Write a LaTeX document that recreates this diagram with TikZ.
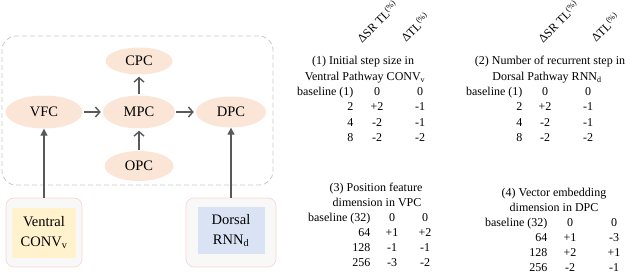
\documentclass[tikz,border=0pt]{standalone}
\usepackage{fontspec}
\setmainfont{Liberation Serif}
\usetikzlibrary{arrows.meta,shapes.geometric}

\definecolor{areafill}{RGB}{251,229,214}
\definecolor{linkgray}{RGB}{89,89,89}
\definecolor{convfill}{RGB}{255,242,204}
\definecolor{rnnfill}{RGB}{218,227,243}
\definecolor{outeredge}{RGB}{248,212,210}
\definecolor{outerfill}{RGB}{248,248,248}
\definecolor{dashgray}{RGB}{200,200,200}

\begin{document}
\begin{tikzpicture}[x=1pt,y=-1pt,font=\fontsize{12}{14}\selectfont,
  area/.style={ellipse,fill=areafill,inner sep=0,font=\fontsize{14.5}{17}\selectfont},
  link/.style={-{Straight Barb[length=4.5pt,width=10pt]},line width=1.4pt,draw=linkgray},
  feed/.style={-{Triangle[length=7pt,width=7pt]},line width=1.4pt,draw=linkgray},
  outer/.style={draw=outeredge,fill=outerfill,rounded corners=8pt,line width=.6pt},
  inner/.style={align=center,inner sep=0,font=\fontsize{14.5}{20}\selectfont},
  key/.style={anchor=mid east},
  val/.style={anchor=mid},
  title/.style={anchor=mid},
  head/.style={rotate=45,anchor=base west,inner sep=0,font=\fontsize{12}{14}\selectfont}]
  \useasboundingbox (0,0) rectangle (640,278);

  % cortex areas
  \node[draw=dashgray,dash pattern=on 5pt off 3pt,rounded corners=14pt,line width=.8pt,
    minimum width=271pt,minimum height=149pt] (cortex) at (137.5,110.5) {};
  \foreach \name/\x/\y/\w/\h/\label in {
    cpc/139/61/67/27/CPC,vfc/44/112/77/33/VFC,mpc/139/112/72/33/MPC,
    dpc/231/112/70/31/DPC,opc/139/166/69/30/OPC}
    \node[area,minimum width=\w pt,minimum height=\h pt] (\name) at (\x,\y) {\label};
  \foreach \a/\b in {vfc/mpc,mpc/dpc,mpc/cpc,opc/mpc}
    \draw[link,shorten <=1pt,shorten >=2pt] (\a) -- (\b);

  % pathways
  \node[outer,minimum width=76pt,minimum height=69pt] (ventralbox) at (44,232.5) {};
  \node[inner,fill=convfill,minimum width=64pt,minimum height=50pt] (ventral)
    at (ventralbox) {Ventral\\CONV\textsubscript{v}};
  \node[outer,minimum width=90pt,minimum height=69pt] (dorsalbox) at (231,232.5) {};
  \node[inner,fill=rnnfill,minimum width=67pt,minimum height=47pt] (dorsal)
    at (231,230.5) {Dorsal\\RNN\textsubscript{d}};
  \draw[feed] (ventralbox.north) -- (vfc.south);
  \draw[feed] (dorsalbox.north) -- (dpc.south);

  % (1) step size
  \node[head] (t1h1) at (362,44) {ΔSR TL\textsuperscript{(\%)}};
  \node[head] (t1h2) at (406,43) {ΔTL\textsuperscript{(\%)}};
  \node[title] (t1a) at (363,62) {(1) Initial step size in};
  \node[title] (t1b) at (365,78) {Ventral Pathway CONV\textsubscript{v}};
  \foreach \r/\y/\k/\u/\v in {0/93/baseline (1)/0/0,1/108/2/+2/-1,2/124/4/-2/-1,3/139/8/-2/-2} {
    \node[key] (t1k\r) at (357,\y) {\k};
    \node[val] (t1u\r) at (377,\y) {\u};
    \node[val] (t1v\r) at (420,\y) {\v};
  }

  % (2) recurrent steps
  \node[head] (t2h1) at (543,44) {ΔSR TL\textsuperscript{(\%)}};
  \node[head] (t2h2) at (596,43) {ΔTL\textsuperscript{(\%)}};
  \node[title] (t2a) at (550,62) {(2) Number of recurrent step in};
  \node[title] (t2b) at (547,78) {Dorsal Pathway RNN\textsubscript{d}};
  \foreach \r/\y/\k/\u/\v in {0/93/baseline (1)/0/0,1/108/2/+2/-1,2/124/4/-2/-1,3/139/8/-2/-2} {
    \node[key] (t2k\r) at (526,\y) {\k};
    \node[val] (t2u\r) at (545,\y) {\u};
    \node[val] (t2v\r) at (588,\y) {\v};
  }

  % (3) position feature
  \node[title] (t3a) at (376,189) {(3) Position feature};
  \node[title] (t3b) at (377,204) {dimension in VPC};
  \foreach \r/\y/\k/\u/\v in {0/219/baseline (32)/0/0,1/234/64/+1/+2,2/249/128/-1/-1,3/264/256/-3/-2} {
    \node[key] (t3k\r) at (374,\y) {\k};
    \node[val] (t3u\r) at (392,\y) {\u};
    \node[val] (t3v\r) at (425,\y) {\v};
  }

  % (4) vector embedding
  \node[title] (t4a) at (554,194) {(4) Vector embedding};
  \node[title] (t4b) at (554,209) {dimension in DPC};
  \foreach \r/\y/\k/\u/\v in {0/224/baseline (32)/0/0,1/239/64/+1/-3,2/254/128/+2/+1,3/269/256/-2/-1} {
    \node[key] (t4k\r) at (551,\y) {\k};
    \node[val] (t4u\r) at (570,\y) {\u};
    \node[val] (t4v\r) at (614,\y) {\v};
  }
\end{tikzpicture}
\end{document}
